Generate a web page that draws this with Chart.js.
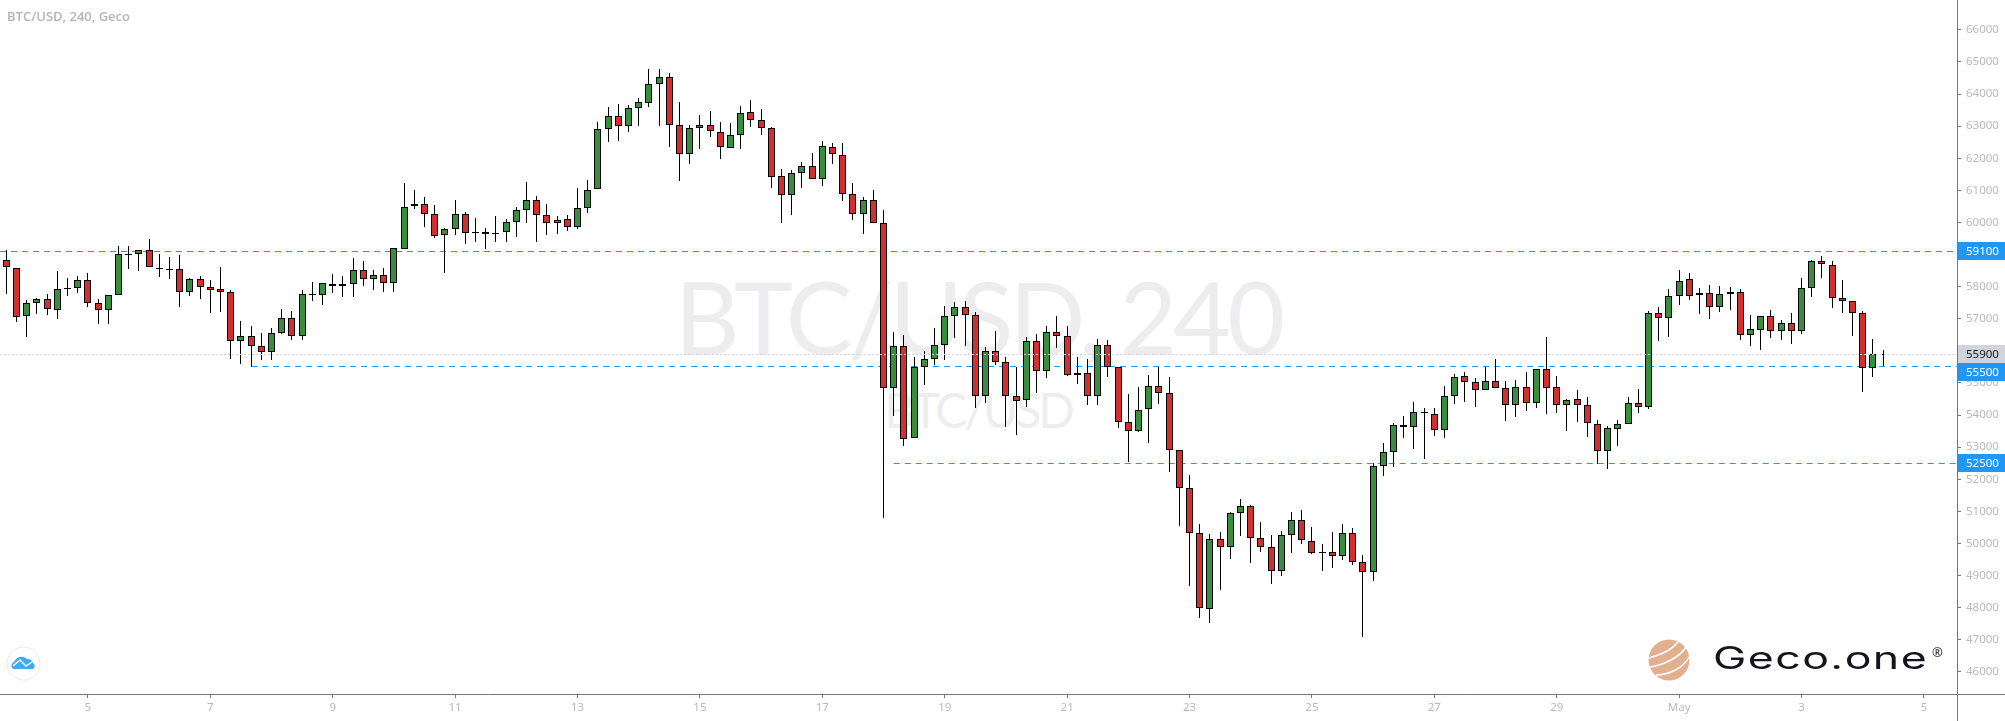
<!DOCTYPE html>
<html>
<head>
<meta charset="utf-8">
<title>BTC/USD, 240, Geco</title>
<script src="https://cdn.jsdelivr.net/npm/chart.js@4"></script>
<style>
    html, body { margin: 0; padding: 0; background: #fff; overflow: hidden; }
    #wrap { position: relative; width: 2005px; height: 721px; }
    #wrap canvas { position: absolute; left: 0; top: 0; }
    .mark { position: absolute; white-space: nowrap; font-family: Lato, sans-serif; color: #ededef; text-align: center; }
    #bigMark { left: 578px; width: 800px; top: 256px; font-size: 100px; line-height: 120px; letter-spacing: -4px; }
    #smallMark { left: 778px; width: 400px; top: 380px; font-size: 48px; line-height: 60px; letter-spacing: -3px; }
    #title { position: absolute; left: 7px; top: 7px; font: 600 13px/18px "Open Sans", sans-serif; color: #b4b4b4; }
    #brand { position: absolute; left: 1713px; top: 636px; font: 400 31px/44px Inter, sans-serif; color: #14141e; transform: scaleX(1.44); transform-origin: left center; letter-spacing: 1px; }
    #reg { position: absolute; left: 1932px; top: 644px; font: 400 13px/16px "Open Sans", sans-serif; color: #14141e; }
    svg { position: absolute; }
</style>
</head>
<body>
<div id="wrap">
    <div class="mark" id="bigMark">BTC/USD, 240</div>
    <div class="mark" id="smallMark">BTC/USD</div>
    <canvas id="btcChart" width="2005" height="721"></canvas>
    <div id="title">BTC/USD, 240, Geco</div>
    <svg style="left:5px;top:645px" width="38" height="38" viewBox="0 0 38 38">
        <circle cx="18.5" cy="18.5" r="16.5" fill="#fff" stroke="#e8e8e8" stroke-width="1"/>
        <path d="M8 24 a4 4 0 0 1 1-7 a8 8 0 0 1 13-3 a6 6 0 0 1 6 4 a3.5 3.5 0 0 1 0 6 z" fill="#3fa9f5"/>
        <path d="M8 21 L15 15 L21 21 L27 17" fill="none" stroke="#fff" stroke-width="1.5"/>
    </svg>
    <svg style="left:1648px;top:639px" width="42" height="42" viewBox="0 0 42 42">
        <circle cx="21" cy="21" r="20.5" fill="#e3b08f"/>
        <path d="M1 19 C12 16 24 11 30 3 M2 28 C16 26 32 18 38 8 M8 36 C22 36 36 28 41 18" fill="none" stroke="#fff" stroke-width="1.6"/>
    </svg>
    <div id="brand">Geco.one</div>
    <div id="reg">®</div>
</div>
<script>
// Candles, oldest first, 4h each
const opens = [
    58820,58570,57080,57500,57610,57260,57920,57950,58200,57480,
    57260,57730,59000,59010,59130,58570,58540,58540,57820,58230,
    57980,57920,57820,56300,56450,56140,55960,56550,57010,56450,
    57730,57730,58070,58010,58070,58510,58230,58350,58100,59160,
    60500,60560,60250,59600,59790,60250,59660,59690,59660,59690,
    60000,60380,60690,60220,59970,60100,59850,60440,61030,62900,
    63300,62990,63550,63710,64300,64520,63020,62120,62930,63020,
    62810,62310,62710,63430,63180,62930,61440,60840,61530,61750,
    61340,62340,62090,60880,60250,60690,59970,54830,56140,53280,
    55490,55740,56170,57080,57360,57110,54590,55990,55640,54590,
    54460,56300,55360,56580,56450,55240,55300,54590,56170,55490,
    53780,53500,54180,54900,54680,52900,51720,50320,47950,50130,
    49880,50940,51160,50160,49880,49140,50260,50730,50070,49700,
    49730,49600,50320,49420,49110,52410,52840,53680,53620,54050,
    54040,53530,54590,55210,55020,54770,55050,54840,54310,54870,
    54370,55430,54870,54310,54490,54310,53710,52870,53560,53710,
    54370,54240,57170,57030,57700,58230,57730,57790,57350,57760,
    57820,56480,56640,57080,56610,56860,56610,57950,58790,58660,
    57640,57540,57170,55460,55880
];
const closes = [
    58600,57050,57500,57610,57290,57920,57950,58200,57480,57260,
    57730,59010,59010,59130,58600,58540,58530,57820,58230,57980,
    57890,57820,56300,56450,56140,55960,56550,57010,56450,57760,
    57760,58100,58010,58070,58510,58230,58350,58100,59190,60470,
    60560,60250,59570,59790,60250,59660,59690,59630,59630,60000,
    60380,60690,60220,59970,60070,59850,60440,61000,62900,63300,
    62990,63550,63740,64300,64520,63020,62120,62930,63020,62840,
    62340,62710,63400,63180,62930,61400,60840,61530,61750,61340,
    62370,62120,60880,60250,60690,59970,54830,56140,53250,55490,
    55740,56170,57080,57360,57110,54590,55990,55640,54590,54430,
    56300,55360,56580,56450,55240,55300,54590,56170,55490,53780,
    53500,54150,54900,54680,52900,51720,50320,47980,50130,49880,
    50940,51160,50160,49880,49140,50260,50730,50100,49700,49730,
    49600,50320,49420,49110,52410,52840,53680,53620,54090,54100,
    53530,54590,55180,55020,54770,55050,54840,54310,54870,54370,
    55430,54840,54310,54460,54310,53750,52870,53590,53710,54370,
    54240,57170,57030,57700,58170,57700,57790,57350,57760,57820,
    56480,56670,57080,56610,56860,56610,57950,58790,58700,57640,
    57540,57170,55460,55890,55890
];
const highs = [
    59140,58570,57590,57650,57770,58490,58270,58330,58430,57620,
    57730,59270,59270,59130,59490,59020,58920,58990,58270,58330,
    58210,58610,57900,56930,56780,56560,56710,57310,57240,57900,
    58150,58100,58400,58330,58890,58800,58520,58580,59190,61230,
    61010,60790,60540,59830,60700,60320,60140,59830,60200,60110,
    60470,61260,60820,60570,60200,60230,61070,61320,63130,63600,
    63690,63650,63880,64780,64780,64650,63750,63020,63350,63470,
    63130,63100,63630,63810,63530,62960,61660,61620,61880,62160,
    62540,62470,62470,61230,60790,61010,60390,56590,56500,55810,
    56000,56710,57400,57520,57550,57210,56120,56620,55810,55490,
    56430,56530,56780,57090,56780,55810,55750,56370,56340,55490,
    54660,54880,55250,55490,55190,52900,52140,50610,50300,50360,
    50980,51390,51200,50670,50270,50390,50980,51050,50520,49990,
    50360,50610,50490,49650,52500,53130,53760,53970,54400,54220,
    54220,54910,55280,55340,55160,55490,55750,55060,55100,55340,
    55430,56430,55220,54500,54780,54570,53850,53660,53850,54570,
    54820,57230,57370,57920,58510,58430,57950,58050,58020,57990,
    57920,57120,57080,57270,56960,57180,58270,58820,58960,58800,
    58210,57540,57230,56370,56030
];
const lows = [
    57780,56910,56440,57160,57130,57000,57720,57810,57350,56820,
    56820,57730,58560,58500,58600,58310,58250,57380,57720,57600,
    57190,57220,55730,55600,55490,55700,55700,56510,56350,56350,
    57560,57440,57810,57690,57690,58030,57910,57840,57840,59160,
    60430,59870,59530,58410,59620,59340,59400,59180,59400,59400,
    59560,59990,59400,59620,59650,59740,59810,60300,61030,62520,
    62550,62830,63010,63610,63010,62360,61300,61830,62300,62670,
    61990,62310,62300,62980,62730,61080,59990,60240,61080,61340,
    61150,61830,60680,60090,59650,59970,50780,53970,53050,53280,
    54920,55560,55720,56410,56150,54230,54360,55570,53640,53390,
    54260,54700,55140,56100,55200,54980,54300,54300,55170,53610,
    52550,53460,53140,54330,52210,50530,48660,47680,47510,48560,
    49530,50220,49380,49720,48750,48970,49690,49970,49660,49130,
    49220,49470,49340,47070,48820,52090,52370,53270,52930,52640,
    53350,53290,54350,54410,54250,54770,54840,53820,53940,54130,
    54220,54040,54070,53510,53790,53320,52480,52320,53040,53710,
    54070,54190,56320,56430,57430,57590,57150,56990,57210,57270,
    56340,56150,56030,56400,56340,56210,56530,57680,58270,57340,
    57180,56460,54720,55190,55530
];

// Axis ticks
const xTickIndex = [8,20,32,44,56,68,80,92,104,116,128,140,152,164,176,188];
const xTickLabels = ['5','7','9','11','13','15','17','19','21','23','25','27','29','May','3','5'];
const yTicks = [46000,47000,48000,49000,50000,51000,52000,53000,54000,55000,56000,57000,58000,59000,60000,61000,62000,63000,64000,65000,66000];

// Horizontal levels and the candle each one starts from
const levelPrices = [59100, 55500, 52500];
const levelStarts = [-1, 24, 87];
const lastPrice = 55900;

const xMin = -0.618, xMax = 191.24;
const yMin = 45309, yMax = 66929;

const RED = '#d32f2f', GREEN = '#388e3c', BLUE = '#2196f3', AXIS = '#787878';

const candleWicks = lows.map((low, i) => ({ x: i, y: [low, highs[i]] }));
const candleBodies = opens.map((open, i) => ({ x: i, y: [open, closes[i]] }));

// Chart.js leaves bars on fractional pixels, TradingView snaps them
const snapPlugin = {
    id: 'snap',
    afterDatasetsUpdate(chart) {
        chart.getSortedVisibleDatasetMetas().forEach(meta => {
            if (meta.type === 'bar') {
                meta.data.forEach(el => {
                    el.x = Math.floor(el.x) + 0.5;
                    el.y = Math.round(el.y);
                    el.base = Math.round(el.base);
                    if (el.y === el.base) el.base += 1;
                });
            } else {
                meta.data.forEach(pt => { pt.y = Math.floor(pt.y) + 0.5; });
            }
        });
        // last candle is still forming, drawn as a small cross
        const bodies = chart.getDatasetMeta(1).data;
        bodies[bodies.length - 1].width = 4;
    }
};

// Price tags on the right axis and the axis lines running off the chart
const axisExtrasPlugin = {
    id: 'axisExtras',
    afterDraw(chart) {
        const { ctx, chartArea, scales } = chart;
        ctx.save();
        ctx.strokeStyle = AXIS;
        ctx.lineWidth = 1;
        ctx.beginPath();
        ctx.moveTo(chartArea.right + 0.5, 0);
        ctx.lineTo(chartArea.right + 0.5, chart.height);
        ctx.moveTo(chartArea.right, chartArea.bottom + 0.5);
        ctx.lineTo(chart.width, chartArea.bottom + 0.5);
        ctx.stroke();

        const tags = [
            { value: levelPrices[0], bg: BLUE, fg: '#fff' },
            { value: lastPrice, bg: '#d1d4dc', fg: '#131722' },
            { value: levelPrices[1], bg: BLUE, fg: '#fff' },
            { value: levelPrices[2], bg: BLUE, fg: '#fff' }
        ];
        let prevBottom = 0;
        ctx.font = '11.5px "Noto Sans", sans-serif';
        ctx.textBaseline = 'middle';
        tags.forEach(tag => {
            const top = Math.max(Math.round(scales.y.getPixelForValue(tag.value) - 9), prevBottom);
            ctx.fillStyle = tag.bg;
            ctx.fillRect(chartArea.right + 1, top, chart.width - chartArea.right - 1, 18);
            ctx.fillStyle = tag.fg;
            ctx.fillText(String(tag.value), 1966, top + 9.5);
            prevBottom = top + 18;
        });
        ctx.restore();
    }
};

const levelDatasets = levelPrices.map((price, i) => ({
    type: 'line',
    data: [{ x: Math.max(levelStarts[i], xMin), y: price }, { x: xMax, y: price }],
    borderColor: BLUE,
    borderWidth: 1,
    borderDash: [6, 5],
    pointRadius: 0,
    order: 5
}));

new Chart(document.getElementById('btcChart').getContext('2d'), {
    type: 'bar',
    plugins: [snapPlugin, axisExtrasPlugin],
    data: {
        datasets: [
            {
                data: candleWicks,
                barThickness: 1,
                grouped: false,
                backgroundColor: '#000',
                borderWidth: 0,
                inflateAmount: 0,
                order: 2
            },
            {
                data: candleBodies,
                barThickness: 7,
                grouped: false,
                backgroundColor: ctx => (ctx.raw && ctx.raw.y[1] >= ctx.raw.y[0] ? GREEN : RED),
                borderColor: '#000',
                borderWidth: 1,
                borderSkipped: false,
                inflateAmount: 0,
                order: 1
            },
            ...levelDatasets,
            {
                type: 'line',
                data: [{ x: xMin, y: lastPrice }, { x: xMax, y: lastPrice }],
                borderColor: '#d1d4dc',
                borderWidth: 1,
                borderDash: [2, 2],
                pointRadius: 0,
                order: 0
            }
        ]
    },
    options: {
        responsive: false,
        animation: false,
        layout: { autoPadding: false, padding: 0 },
        plugins: { legend: { display: false }, tooltip: { enabled: false } },
        scales: {
            x: {
                type: 'linear',
                offset: false,
                min: xMin,
                max: xMax,
                afterBuildTicks: axis => { axis.ticks = xTickIndex.map(v => ({ value: v })); },
                afterFit: axis => { axis.height = 27; axis.paddingLeft = 0; axis.paddingRight = 0; },
                grid: { offset: false, drawOnChartArea: false, tickLength: 4, color: AXIS },
                border: { color: AXIS },
                ticks: {
                    autoSkip: false,
                    maxRotation: 0,
                    padding: 3,
                    color: '#b9b9b9',
                    font: { family: '"Noto Sans", sans-serif', size: 11.5 },
                    callback: value => xTickLabels[xTickIndex.indexOf(value)]
                }
            },
            y: {
                position: 'right',
                min: yMin,
                max: yMax,
                afterBuildTicks: axis => { axis.ticks = yTicks.map(v => ({ value: v })); },
                afterFit: axis => { axis.width = 48; axis.paddingTop = 0; axis.paddingBottom = 0; },
                grid: { drawOnChartArea: false, tickLength: 4, color: AXIS },
                border: { color: AXIS },
                ticks: {
                    padding: 5,
                    color: '#b9b9b9',
                    font: { family: '"Noto Sans", sans-serif', size: 11.5 },
                    callback: value => String(value)
                }
            }
        }
    }
});
</script>
</body>
</html>
